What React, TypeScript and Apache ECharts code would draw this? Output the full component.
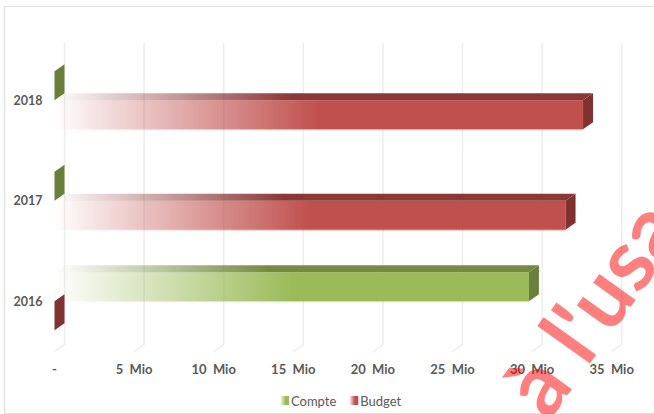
import React, { useEffect, useRef } from "react";
import * as echarts from "echarts";

const categories = ["2016", "2017", "2018"];
const compte = [29.8, 0, 0];
const budget = [0, 32.1, 33.2];
const ticks = [0, 5, 10, 15, 20, 25, 30, 35];
const tickLabels = ["-", "5  Mio", "10  Mio", "15  Mio", "20  Mio", "25  Mio", "30  Mio", "35  Mio"];
const watermark = "à l'usa";

const DX = 10;
const DY = 7;
const FONT = "Lato, 'Noto Sans', sans-serif";

const fade = (r: number, g: number, b: number, end: number) => ({
  type: "linear", x: 0, y: 0, x2: 1, y2: 0, global: false,
  colorStops: [
    { offset: 0, color: `rgba(${r},${g},${b},0)` },
    { offset: end, color: `rgba(${r},${g},${b},1)` },
    { offset: 1, color: `rgba(${r},${g},${b},1)` },
  ],
});

const makeBar = (name: string, values: number[], lower: boolean, front: number[], top: number[], side: string) => ({
  type: "custom",
  name,
  coordinateSystem: "cartesian2d",
  data: values.map((v, i) => [v, i]),
  encode: { x: 0, y: 1 },
  itemStyle: { color: fade(front[0], front[1], front[2], 0.6) },
  renderItem: (_: any, api: any) => {
    const [x1, yc] = api.coord([api.value(0), api.value(1)]);
    const [x0] = api.coord([0, api.value(1)]);
    const h = api.size([0, 1])[1] * 0.288;
    const y = lower ? yc : yc - h;
    const w = x1 - x0;
    const children: any[] = [];
    if (w > 0) {
      children.push({
        type: "rect",
        shape: { x: x0, y, width: w, height: h },
        style: { fill: fade(front[0], front[1], front[2], 0.5) },
      });
      children.push({
        type: "rect",
        shape: { x: x0, y: y + h, width: w, height: 1 },
        style: { fill: fade(front[0], front[1], front[2], 0.5), opacity: 0.4 },
      });
      children.push({
        type: "polygon",
        shape: { points: [[x0, y], [x0 + DX, y - DY], [x1 + DX, y - DY], [x1, y]] },
        style: { fill: fade(top[0], top[1], top[2], 0.44) },
      });
    }
    children.push({
      type: "polygon",
      shape: { points: [[x1, y], [x1 + DX, y - DY], [x1 + DX, y + h - DY], [x1, y + h]] },
      style: { fill: side },
    });
    return { type: "group", children };
  },
});

export default function App() {
  const ref = useRef<HTMLDivElement>(null);
  useEffect(() => {
    document.body.style.margin = "0";
    const chart = echarts.init(ref.current!, null, { renderer: "svg" });
    chart.setOption({
      animation: false,
      backgroundColor: "#ffffff",
      grid: { left: 54.5, width: 557.2, top: 50, height: 301.5 },
      xAxis: {
        type: "value",
        min: 0,
        max: 35,
        interval: 5,
        splitLine: { show: false },
        axisLine: { show: false },
        axisTick: { show: false },
        axisLabel: {
          margin: 11,
          color: "#595959",
          fontFamily: FONT,
          fontWeight: "bold",
          fontSize: 13,
          formatter: (v: number) => tickLabels[ticks.indexOf(v)],
        },
      },
      yAxis: {
        type: "category",
        data: categories,
        axisLine: { show: false },
        axisTick: { show: false },
        axisLabel: { margin: 12, color: "#595959", fontFamily: FONT, fontWeight: "bold", fontSize: 12.5 },
      },
      legend: {
        data: ["Compte", "Budget"],
        left: 275,
        top: 389,
        itemWidth: 9,
        itemHeight: 9,
        itemGap: 13,
        icon: "rect",
        textStyle: { color: "#595959", fontFamily: FONT, fontSize: 13, padding: [0, 0, 0, -3] },
      },
      series: [
        {
          type: "custom",
          name: "grid",
          coordinateSystem: "cartesian2d",
          data: ticks.map((t) => [t, 0]),
          encode: { x: 0, y: 1 },
          silent: true,
          renderItem: (params: any, api: any) => {
            const [x] = api.coord([api.value(0), 0]);
            const cs = params.coordSys;
            return {
              type: "polyline",
              shape: {
                points: [
                  [x + DX, cs.y - DY],
                  [x + DX, cs.y + cs.height - DY],
                  [x, cs.y + cs.height],
                ],
              },
              style: { stroke: "#EDEDED", lineWidth: 1.5, fill: "none" },
            };
          },
        },
        makeBar("Compte", compte, false, [155, 187, 89], [116, 140, 66], "#6A7F3C"),
        makeBar("Budget", budget, true, [192, 80, 77], [140, 56, 54], "#7F3230"),
      ],
      graphic: [
        { type: "line", shape: { x1: 4.5, y1: 6, x2: 4.5, y2: 413 }, style: { stroke: "#E2E2E2", lineWidth: 1.5 }, silent: true },
        { type: "line", shape: { x1: 4, y1: 6.5, x2: 654, y2: 6.5 }, style: { stroke: "#E2E2E2", lineWidth: 1 }, silent: true },
        { type: "line", shape: { x1: 4, y1: 413.5, x2: 654, y2: 413.5 }, style: { stroke: "#E2E2E2", lineWidth: 1 }, silent: true },
        {
          type: "text",
          x: 557,
          y: 427,
          rotation: 0.95,
          z: 100,
          silent: true,
          style: {
            text: watermark,
            fill: "#FF0000",
            opacity: 0.5,
            fontFamily: FONT,
            fontWeight: "bold",
            fontSize: 87,
            textAlign: "left",
            textVerticalAlign: "bottom",
          },
        },
      ],
    });
    return () => chart.dispose();
  }, []);
  return <div ref={ref} style={{ width: 654, height: 414 }} />;
}
